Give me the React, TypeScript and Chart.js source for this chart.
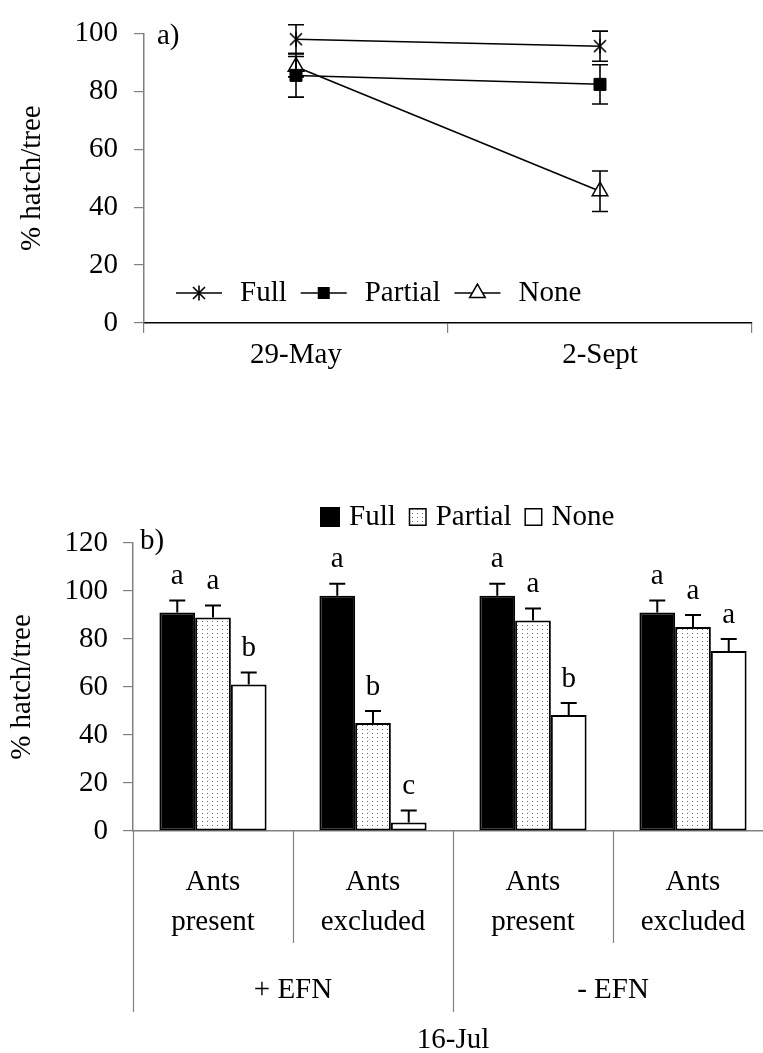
import React, { useEffect, useRef } from 'react';
import { Chart, registerables } from 'chart.js';

Chart.register(...registerables);

const FONT = '"Liberation Serif", "Times New Roman", Times, serif';
const FS = 29;

// ---------- Panel a) data ----------
const datesA = ['29-May', '2-Sept'];
const seriesNames = ['Full', 'Partial', 'None'];
const fullA = [98, 95.6];
const fullAErr = [5, 5.2];
const partialA = [85.5, 82.4];
const partialAErr = [7.5, 6.8];
const noneA = [88.5, 45.5];
const noneAErr = [3.5, 7];
const yTicksA = [0, 20, 40, 60, 80, 100];
const panelLabelA = 'a)';

// ---------- Panel b) data ----------
const treatmentsB = [['Ants', 'present'], ['Ants', 'excluded'], ['Ants', 'present'], ['Ants', 'excluded']];
const efnGroupsB = ['+ EFN', '- EFN'];
const dateB = '16-Jul';
const fullB = [91, 98, 98, 91];
const fullBErr = [5, 5, 5, 5];
const partialB = [89, 45, 87.7, 85];
const partialBErr = [5, 5, 5, 5];
const noneB = [61, 3.5, 48.3, 75];
const noneBErr = [5, 5, 5, 5];
const lettersFullB = ['a', 'a', 'a', 'a'];
const lettersPartialB = ['a', 'b', 'a', 'a'];
const lettersNoneB = ['b', 'c', 'b', 'a'];
const yTicksB = [0, 20, 40, 60, 80, 100, 120];
const panelLabelB = 'b)';
const yTitle = '% hatch/tree';

const GRAY = '#808080';

function makeStarCanvas(): HTMLCanvasElement {
  const c = document.createElement('canvas');
  c.width = 18;
  c.height = 18;
  const g = c.getContext('2d')!;
  g.strokeStyle = '#000';
  g.lineWidth = 1.6;
  g.beginPath();
  g.moveTo(3, 3); g.lineTo(15, 15);
  g.moveTo(15, 3); g.lineTo(3, 15);
  g.moveTo(9, 1.5); g.lineTo(9, 16.5);
  g.stroke();
  return c;
}

function makeDotPattern(ctx: CanvasRenderingContext2D): CanvasPattern | string {
  const c = document.createElement('canvas');
  c.width = 5;
  c.height = 4;
  const g = c.getContext('2d')!;
  g.fillStyle = '#fff';
  g.fillRect(0, 0, 5, 4);
  g.fillStyle = '#6a6a6a';
  g.fillRect(2, 1, 1, 1);
  return ctx.createPattern(c, 'repeat') || '#eee';
}

function drawMarker(ctx: CanvasRenderingContext2D, kind: number, x: number, y: number, star: HTMLCanvasElement) {
  ctx.save();
  if (kind === 0) {
    ctx.drawImage(star, x - star.width / 2, y - star.height / 2);
  } else if (kind === 1) {
    ctx.fillStyle = '#000';
    ctx.fillRect(x - 6, y - 6, 12, 12);
  } else {
    const r = 9;
    ctx.beginPath();
    ctx.moveTo(x, y - r);
    ctx.lineTo(x + r * 0.866, y + r * 0.5);
    ctx.lineTo(x - r * 0.866, y + r * 0.5);
    ctx.closePath();
    ctx.fillStyle = '#fff';
    ctx.fill();
    ctx.strokeStyle = '#000';
    ctx.lineWidth = 1.5;
    ctx.stroke();
  }
  ctx.restore();
}

function drawRotatedTitle(ctx: CanvasRenderingContext2D, text: string, x: number, y: number) {
  ctx.save();
  ctx.translate(x, y);
  ctx.rotate(-Math.PI / 2);
  ctx.font = `${FS}px ${FONT}`;
  ctx.fillStyle = '#000';
  ctx.textAlign = 'center';
  ctx.textBaseline = 'middle';
  ctx.fillText(text, 0, 0);
  ctx.restore();
}

export default function App() {
  const refA = useRef<HTMLCanvasElement>(null);
  const refB = useRef<HTMLCanvasElement>(null);

  useEffect(() => {
    const star = makeStarCanvas();
    const errsA = [fullAErr, partialAErr, noneAErr];

    const pluginA = {
      id: 'panelA',
      afterDatasetsDraw(chart: any) {
        const ctx: CanvasRenderingContext2D = chart.ctx;
        const ys = chart.scales.y;
        ctx.save();
        ctx.strokeStyle = '#000';
        ctx.lineWidth = 1.6;
        chart.data.datasets.forEach((ds: any, d: number) => {
          const meta = chart.getDatasetMeta(d);
          meta.data.forEach((el: any, i: number) => {
            const v = ds.data[i];
            const e = errsA[d][i];
            const yt = ys.getPixelForValue(v + e);
            const yb = ys.getPixelForValue(v - e);
            const x = el.x;
            ctx.beginPath();
            ctx.moveTo(x, yt); ctx.lineTo(x, yb);
            ctx.moveTo(x - 8, yt); ctx.lineTo(x + 8, yt);
            ctx.moveTo(x - 8, yb); ctx.lineTo(x + 8, yb);
            ctx.stroke();
          });
        });
        ctx.restore();
      },
      afterDraw(chart: any) {
        const ctx: CanvasRenderingContext2D = chart.ctx;
        const area = chart.chartArea;
        drawRotatedTitle(ctx, yTitle, 32, (area.top + area.bottom) / 2);
        ctx.save();
        ctx.font = `${FS}px ${FONT}`;
        ctx.fillStyle = '#000';
        ctx.textAlign = 'left';
        ctx.textBaseline = 'middle';
        ctx.fillText(panelLabelA, area.left + 13, area.top + 3);
        // legend
        let x = 176;
        const ly = 293;
        seriesNames.forEach((name, k) => {
          ctx.strokeStyle = '#000';
          ctx.lineWidth = 1.5;
          ctx.beginPath();
          ctx.moveTo(x, ly); ctx.lineTo(x + 46, ly);
          ctx.stroke();
          drawMarker(ctx, k, x + 23, ly, star);
          x += 46 + 18;
          ctx.fillStyle = '#000';
          ctx.fillText(name, x, ly);
          x += ctx.measureText(name).width + 14;
        });
        ctx.restore();
      },
    };

    const chartA = new Chart(refA.current!, {
      type: 'line',
      data: {
        labels: datesA,
        datasets: [
          { label: seriesNames[0], data: fullA, borderColor: '#000', borderWidth: 1.5, pointStyle: star as any, pointRadius: 9, clip: false as any, tension: 0 },
          { label: seriesNames[1], data: partialA, borderColor: '#000', borderWidth: 1.5, pointStyle: 'rect', pointRadius: 8.5, pointBackgroundColor: '#000', pointBorderColor: '#000', pointBorderWidth: 1, clip: false as any, tension: 0 },
          { label: seriesNames[2], data: noneA, borderColor: '#000', borderWidth: 1.5, pointStyle: 'triangle', pointRadius: 9, pointBackgroundColor: '#fff', pointBorderColor: '#000', pointBorderWidth: 1.5, clip: false as any, tension: 0 },
        ],
      },
      options: {
        responsive: false,
        animation: false,
        devicePixelRatio: 1,
        layout: { padding: { left: 0, top: 27, right: 11, bottom: 0 } },
        plugins: { legend: { display: false }, tooltip: { enabled: false } },
        scales: {
          x: {
            type: 'category',
            offset: true,
            grid: { offset: true, drawOnChartArea: false, tickLength: 10, color: GRAY, lineWidth: 1.2 },
            border: { color: '#000', width: 1.5 },
            ticks: { color: '#000', font: { family: FONT, size: FS }, padding: 5, maxRotation: 0 },
            afterFit: (s: any) => { s.height = 77; },
          },
          y: {
            min: yTicksA[0],
            max: yTicksA[yTicksA.length - 1],
            ticks: { stepSize: yTicksA[1] - yTicksA[0], color: '#000', font: { family: FONT, size: FS }, padding: 16 },
            grid: { drawOnChartArea: false, tickLength: 10, color: GRAY, lineWidth: 1.2 },
            border: { color: GRAY, width: 1.5 },
            afterFit: (s: any) => { s.width = 144; },
          },
        },
      },
      plugins: [pluginA],
    } as any);

    // ---------- Panel b ----------
    const ctxB = refB.current!.getContext('2d')!;
    const pattern = makeDotPattern(ctxB);
    const errsB = [fullBErr, partialBErr, noneBErr];
    const lettersB = [lettersFullB, lettersPartialB, lettersNoneB];

    const pluginB = {
      id: 'panelB',
      afterDatasetsDraw(chart: any) {
        const ctx: CanvasRenderingContext2D = chart.ctx;
        const ys = chart.scales.y;
        ctx.save();
        ctx.strokeStyle = '#000';
        ctx.lineWidth = 2;
        ctx.font = `${FS}px ${FONT}`;
        ctx.fillStyle = '#000';
        ctx.textAlign = 'center';
        ctx.textBaseline = 'middle';
        chart.data.datasets.forEach((ds: any, d: number) => {
          const meta = chart.getDatasetMeta(d);
          meta.data.forEach((el: any, i: number) => {
            const v = ds.data[i];
            const e = errsB[d][i];
            const yv = ys.getPixelForValue(v);
            const yt = ys.getPixelForValue(v + e);
            const x = el.x;
            ctx.beginPath();
            ctx.moveTo(x, yv); ctx.lineTo(x, yt);
            ctx.moveTo(x - 8, yt); ctx.lineTo(x + 8, yt);
            ctx.stroke();
            ctx.fillText(lettersB[d][i], x, yt - 24);
          });
        });
        ctx.restore();
      },
      afterDraw(chart: any) {
        const ctx: CanvasRenderingContext2D = chart.ctx;
        const area = chart.chartArea;
        const xs = chart.scales.x;
        const half = (xs.getPixelForValue(1) - xs.getPixelForValue(0)) / 2;
        ctx.save();
        // category dividers
        ctx.strokeStyle = GRAY;
        ctx.lineWidth = 1.2;
        for (let i = 0; i <= treatmentsB.length; i++) {
          const x = Math.round(xs.getPixelForValue(0) - half + i * 2 * half) + 0.5;
          const len = i % 2 === 0 ? 181 : 112;
          ctx.beginPath();
          ctx.moveTo(x, area.bottom);
          ctx.lineTo(x, area.bottom + len);
          ctx.stroke();
        }
        ctx.font = `${FS}px ${FONT}`;
        ctx.fillStyle = '#000';
        ctx.textAlign = 'center';
        ctx.textBaseline = 'middle';
        efnGroupsB.forEach((g, k) => {
          const x = (xs.getPixelForValue(2 * k) + xs.getPixelForValue(2 * k + 1)) / 2;
          ctx.fillText(g, x, area.bottom + 159);
        });
        ctx.fillText(dateB, (xs.getPixelForValue(1) + xs.getPixelForValue(2)) / 2, area.bottom + 209);
        ctx.textAlign = 'left';
        ctx.fillText(panelLabelB, area.left + 7, area.top - 2);
        // legend
        const fills = ['#000', pattern, '#fff'];
        let x = 320;
        const ly = 77;
        seriesNames.forEach((name, k) => {
          const bs = k === 0 ? 20 : 18;
          ctx.fillStyle = fills[k] as any;
          ctx.fillRect(x, ly - bs / 2, bs, bs);
          ctx.strokeStyle = '#000';
          ctx.lineWidth = 1.5;
          ctx.strokeRect(x + 0.75, ly - bs / 2 + 0.75, bs - 1.5, bs - 1.5);
          x += bs + 9;
          ctx.fillStyle = '#000';
          ctx.fillText(name, x, ly);
          x += ctx.measureText(name).width + 13;
        });
        ctx.restore();
        drawRotatedTitle(ctx, yTitle, 22, (area.top + area.bottom) / 2);
      },
    };

    const chartB = new Chart(refB.current!, {
      type: 'bar',
      data: {
        labels: treatmentsB,
        datasets: [
          { label: seriesNames[0], data: fullB, backgroundColor: '#000', borderColor: '#000', borderWidth: 2, borderSkipped: false },
          { label: seriesNames[1], data: partialB, backgroundColor: pattern as any, borderColor: '#000', borderWidth: 2, borderSkipped: false },
          { label: seriesNames[2], data: noneB, backgroundColor: '#fff', borderColor: '#000', borderWidth: 2, borderSkipped: false },
        ],
      },
      options: {
        responsive: false,
        animation: false,
        devicePixelRatio: 1,
        layout: { padding: { left: 0, top: 103, right: 17, bottom: 0 } },
        plugins: { legend: { display: false }, tooltip: { enabled: false } },
        datasets: { bar: { categoryPercentage: 0.67, barPercentage: 1.0 } },
        scales: {
          x: {
            type: 'category',
            offset: true,
            grid: { offset: true, drawOnChartArea: false, drawTicks: false },
            border: { color: GRAY, width: 1.5 },
            ticks: { color: '#000', font: { family: FONT, size: FS, lineHeight: 40 / FS }, padding: 31, maxRotation: 0, autoSkip: false },
            afterFit: (s: any) => { s.height = 222; },
          },
          y: {
            min: yTicksB[0],
            max: yTicksB[yTicksB.length - 1],
            ticks: { stepSize: yTicksB[1] - yTicksB[0], color: '#000', font: { family: FONT, size: FS }, padding: 15 },
            grid: { drawOnChartArea: false, tickLength: 10, color: GRAY, lineWidth: 1.2 },
            border: { color: GRAY, width: 1.5 },
            afterFit: (s: any) => { s.width = 133; },
          },
        },
      },
      plugins: [pluginB],
    } as any);

    return () => {
      chartA.destroy();
      chartB.destroy();
    };
  }, []);

  return (
    <div style={{ position: 'fixed', left: 0, top: 0, width: 763, height: 1053, overflow: 'hidden', background: '#fff' }}>
      <canvas ref={refA} width={763} height={400} style={{ position: 'absolute', left: 0, top: 0, display: 'block' }} />
      <canvas ref={refB} width={790} height={613} style={{ position: 'absolute', left: 0, top: 440, display: 'block' }} />
    </div>
  );
}
